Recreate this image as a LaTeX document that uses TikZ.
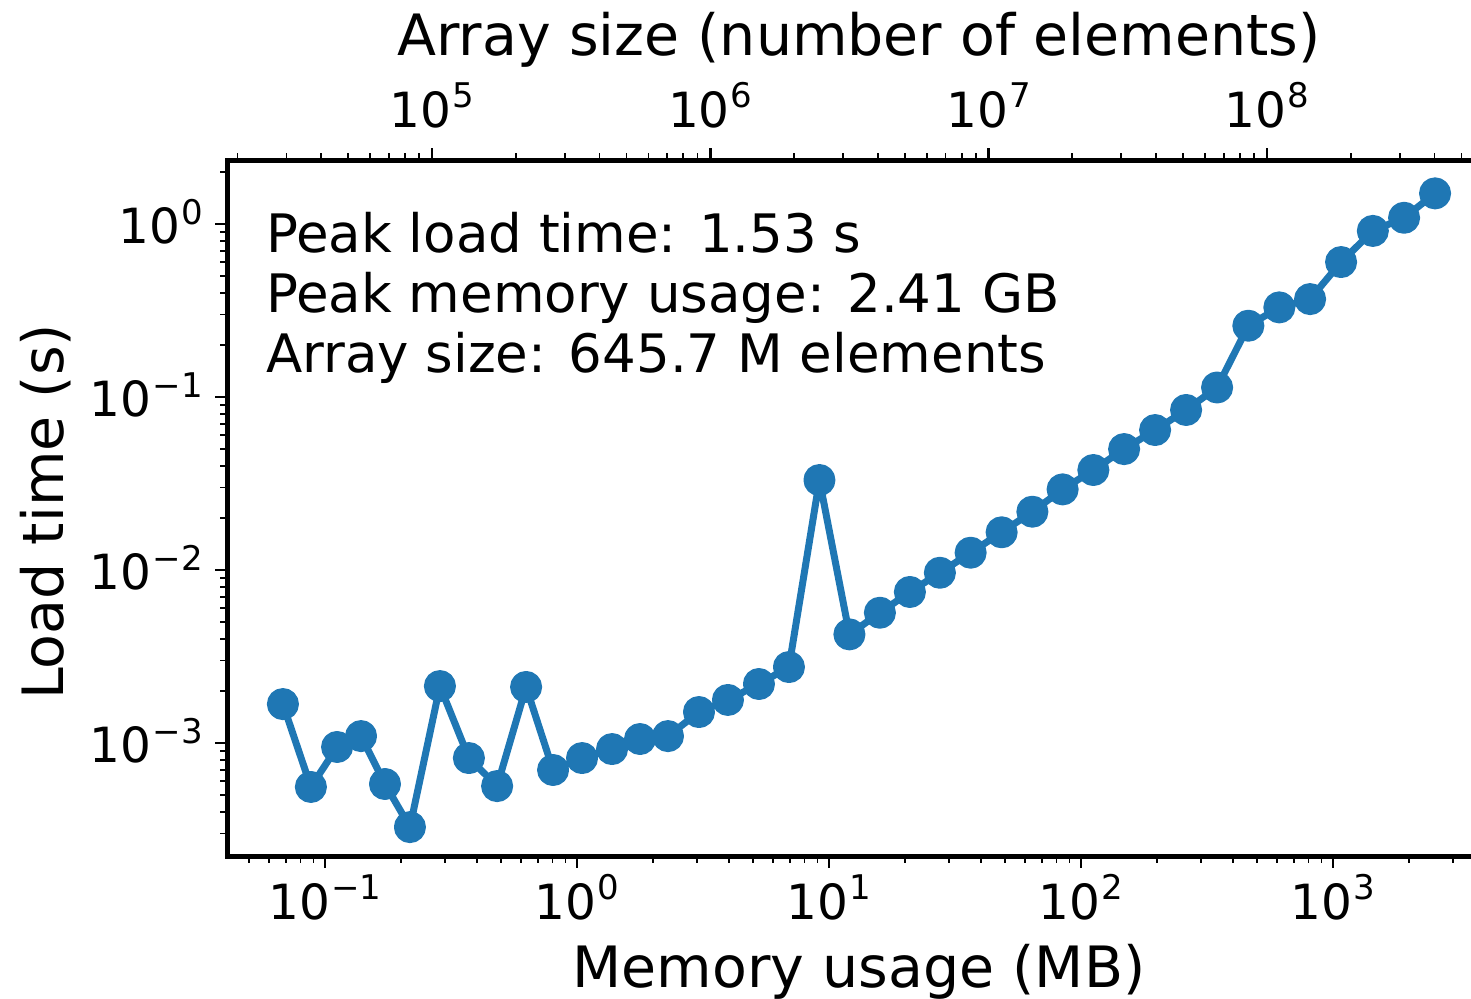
\documentclass[tikz,border=0pt]{standalone}
\usepackage{fontspec}
\setmainfont{DejaVu Sans}
\definecolor{cZero}{HTML}{1F77B4}

% power-of-ten tick label, exponent given as an integer
\newcommand\expo[1]{\ifnum#1<0 −\number\numexpr-#1\relax\else#1\fi}
\newcommand\tenpow[1]{10\kern1pt\raisebox{0.4em}{\fontsize{34}{40}\selectfont\expo{#1}}}

\begin{document}
\begin{tikzpicture}[x=1pt,y=-1pt,
  frame/.style={line width=5pt, line join=miter},
  majortick/.style={line width=2.4pt},
  minortick/.style={line width=1.8pt},
  ticklabel/.style={font=\fontsize{48.5}{58}\selectfont, inner sep=0pt},
  axislabel/.style={font=\fontsize{57}{68}\selectfont, inner sep=0pt},
  note/.style={font=\fontsize{53}{63}\selectfont, inner sep=0pt, anchor=base west},
  series/.style={cZero, line width=7pt, line join=round},
]
\useasboundingbox (0,0) rectangle (1471,998);

% axes frame, open towards the right edge
\draw[frame] (1480,160) -- (227,160) -- (227,856) -- (1480,856);

% ---- bottom axis: memory usage (MB), log scale ----
\begin{scope}[shift={(577,0)}, x=252pt]
  \foreach \e in {-1,...,3} {
    \draw[majortick] (\e,856) -- (\e,868);
    \node[ticklabel, anchor=base] (bx\e) at (\e,919) {\tenpow{\e}};
  }
\end{scope}

% ---- top axis: array size (elements), log scale ----
\begin{scope}[shift={(-959.5,0)}, x=278.3pt]
  \foreach \e in {5,...,8} {
    \draw[majortick] (\e,160) -- (\e,148);
    \node[ticklabel, anchor=base] (tx\e) at (\e,127) {\tenpow{\e}};
  }
\end{scope}

% minor ticks on both horizontal axes
\begin{scope}
  \clip (227,0) rectangle (1480,998);
  \begin{scope}[shift={(577,0)}, x=252pt]
    \foreach \e in {-2,...,3} \foreach \k in {2,...,9}
      \draw[minortick] ({\e+log10(\k)},856) -- ({\e+log10(\k)},863);
  \end{scope}
  \begin{scope}[shift={(-959.5,0)}, x=278.3pt]
    \foreach \e in {4,...,8} \foreach \k in {2,...,9}
      \draw[minortick] ({\e+log10(\k)},160) -- ({\e+log10(\k)},153);
  \end{scope}
\end{scope}

% ---- left axis: load time (s), log scale ----
\begin{scope}[shift={(0,224)}, y=173pt]
  \foreach \e in {-3,...,0} {
    \draw[majortick] (227,\e) -- (215,\e);
    \node[ticklabel, anchor=base east, yshift=-19.5pt] (ly\e) at (203,\e) {\tenpow{\e}};
  }
\end{scope}
\begin{scope}
  \clip (0,160) rectangle (1471,856);
  \begin{scope}[shift={(0,224)}, y=173pt]
    \foreach \e in {-4,...,0} \foreach \k in {2,...,9}
      \draw[minortick] (227,{\e+log10(\k)}) -- (220,{\e+log10(\k)});
  \end{scope}
\end{scope}

% axis titles
\node[axislabel, anchor=base] (xlab) at (859,987) {Memory usage (MB)};
\node[axislabel, anchor=base] (toplab) at (859,56) {Array size (number of elements)};
\node[axislabel, anchor=base, rotate=90] (ylab) at (63,512) {Load time (s)};

% summary text
\node[note] (peaktime) at (266,252) {Peak load time: 1.53 s};
\node[note] (peakmem) at (266,312) {Peak memory usage: 2.41 GB};
\node[note] (size) at (266,372) {Array size: 645.7 M elements};

% ---- measured series: (log10 MB, log10 s) ----
\begin{scope}[shift={(577,224)}, x=252pt, y=173pt]
  \draw[series, mark=*, mark size=12.5pt, mark options={draw=none, fill=cZero}]
    plot coordinates {
      (-1.167,-2.775) (-1.056,-3.254) (-0.952,-3.023) (-0.857,-2.960)
      (-0.762,-3.237) (-0.663,-3.486) (-0.544,-2.671) (-0.429,-3.087)
      (-0.317,-3.249) (-0.202,-2.676) (-0.095,-3.156) (0.020,-3.087)
      (0.139,-3.035) (0.250,-2.977) (0.361,-2.960) (0.484,-2.821)
      (0.599,-2.751) (0.722,-2.659) (0.841,-2.561) (0.962,-1.480)
      (1.081,-2.372) (1.202,-2.247) (1.321,-2.127) (1.440,-2.016)
      (1.562,-1.900) (1.685,-1.782) (1.807,-1.663) (1.927,-1.534)
      (2.049,-1.422) (2.171,-1.301) (2.294,-1.191) (2.417,-1.075)
      (2.540,-0.945) (2.664,-0.588) (2.787,-0.482) (2.909,-0.434)
      (3.032,-0.220) (3.158,-0.040) (3.282,0.036) (3.405,0.177)
    };
\end{scope}
\end{tikzpicture}
\end{document}
